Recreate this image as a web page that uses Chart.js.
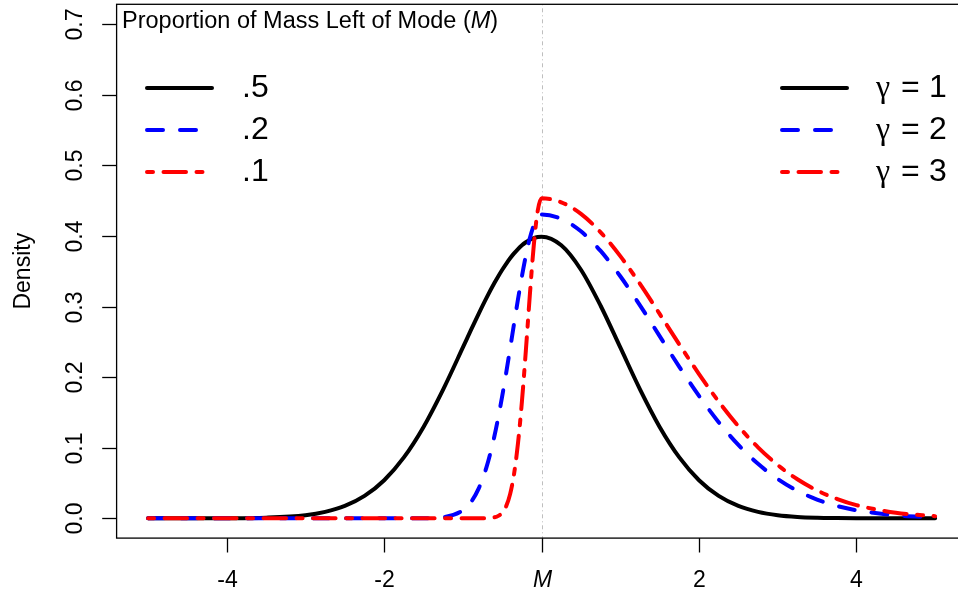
<!DOCTYPE html>
<html>
<head>
<meta charset="utf-8">
<script src="https://cdn.jsdelivr.net/npm/chart.js@4/dist/chart.umd.min.js"></script>
<style>
  html, body { margin: 0; padding: 0; background: #fff; width: 958px; height: 594px; overflow: hidden; }
  #wrap { position: relative; width: 975px; height: 594px; }
</style>
</head>
<body>
<div id="wrap"><canvas id="c" width="975" height="594"></canvas></div>
<script>
// ---- data ----
const xValues = [-5,-4.5,-4,-3.5,-3,-2.75,-2.5,-2.25,-2,-1.75,-1.5,-1.25,-1,-0.9,-0.8,-0.7,-0.6,-0.55,-0.5,-0.45,-0.4,-0.35,-0.3,-0.25,-0.2,-0.15,-0.1,-0.05,0,0.25,0.5,0.75,1,1.25,1.5,1.75,2,2.25,2.5,2.75,3,3.25,3.5,3.75,4,4.5,5];

const gamma1 = [0.0000,0.0000,0.0001,0.0009,0.0044,0.0091,0.0175,0.0317,0.0540,0.0863,0.1295,0.1827,0.2420,0.2661,0.2897,0.3123,0.3332,0.3429,0.3521,0.3605,0.3683,0.3752,0.3814,0.3867,0.3910,0.3945,0.3970,0.3984,0.3989,0.3867,0.3521,0.3011,0.2420,0.1827,0.1295,0.0863,0.0540,0.0317,0.0175,0.0091,0.0044,0.0020,0.0009,0.0004,0.0001,0.0000,0.0000];

const gamma2 = [0,0,0,0,0,0,0,0,0,0.0000,0.0001,0.0015,0.0114,0.0227,0.0420,0.0725,0.1162,0.1433,0.1734,0.2061,0.2405,0.2756,0.3102,0.3428,0.3721,0.3965,0.4149,0.4264,0.4303,0.4242,0.4065,0.3787,0.3428,0.3017,0.2581,0.2146,0.1734,0.1362,0.1040,0.0772,0.0557,0.0390,0.0266,0.0176,0.0114,0.0043,0.0015];

const gamma3 = [0,0,0,0,0,0,0,0,0,0,0,0,0,0,0.0000,0.0002,0.0014,0.0035,0.0080,0.0173,0.0343,0.0628,0.1062,0.1654,0.2377,0.3153,0.3857,0.4352,0.4532,0.4476,0.4312,0.4051,0.3713,0.3320,0.2895,0.2463,0.2043,0.1654,0.1306,0.1005,0.0755,0.0553,0.0395,0.0276,0.0187,0.0080,0.0031];

const xTickValues = [-4, -2, 0, 2, 4];
const xTickLabels = ['-4', '-2', 'M', '2', '4'];
const yTickValues = [0, 0.1, 0.2, 0.3, 0.4, 0.5, 0.6, 0.7];
const yTickLabels = ['0.0', '0.1', '0.2', '0.3', '0.4', '0.5', '0.6', '0.7'];

const legendTitle = 'Proportion of Mass Left of Mode (';
const legendTitleItalic = 'M';
const propLabels = ['.5', '.2', '.1'];
const gammaLabels = ['1', '2', '3'];
const yAxisTitle = 'Density';

// ---- styles ----
const colors = ['#000000', '#0000FF', '#FF0000'];
const dashes = [[], [16, 17], [6, 10.5, 22.5, 10.5]];
const LW = 4;
const SANS = '"Liberation Sans", Arial, Helvetica, sans-serif';
const FS = 23;
const TFS = 23.5;

function pts(ys) { return xValues.map((x, i) => ({ x: x, y: ys[i] })); }

const series = [gamma1, gamma2, gamma3];
const datasets = series.map((s, i) => ({
  data: pts(s),
  borderColor: colors[i],
  borderWidth: LW,
  borderDash: dashes[i],
  borderCapStyle: 'round',
  borderJoinStyle: 'round',
  pointRadius: 0,
  fill: false,
  cubicInterpolationMode: 'monotone',
  order: 3 - i
}));

const decor = {
  id: 'rdecor',
  beforeDatasetsDraw(chart) {
    const ctx = chart.ctx, a = chart.chartArea, xs = chart.scales.x;
    const x0 = Math.round(xs.getPixelForValue(0)) + 0.5;
    ctx.save();
    ctx.strokeStyle = '#BEBEBE';
    ctx.lineWidth = 1;
    ctx.setLineDash([1, 3, 4, 3]);
    ctx.beginPath();
    ctx.moveTo(x0, a.top);
    ctx.lineTo(x0, a.bottom);
    ctx.stroke();
    ctx.restore();
  },
  afterDraw(chart) {
    const ctx = chart.ctx, a = chart.chartArea, xs = chart.scales.x, ys = chart.scales.y;
    ctx.save();
    // box
    ctx.strokeStyle = '#000';
    ctx.lineWidth = 1.3;
    ctx.setLineDash([]);
    ctx.strokeRect(a.left, a.top, a.right - a.left, a.bottom - a.top);
    // x ticks
    const tick = 14.4;
    ctx.fillStyle = '#000';
    ctx.textAlign = 'center';
    ctx.textBaseline = 'alphabetic';
    xTickValues.forEach((v, i) => {
      const px = Math.round(xs.getPixelForValue(v)) + 0.5;
      ctx.beginPath();
      ctx.moveTo(px, a.bottom);
      ctx.lineTo(px, a.bottom + tick);
      ctx.stroke();
      ctx.font = (xTickLabels[i] === 'M' ? 'italic ' : '') + FS + 'px ' + SANS;
      ctx.fillText(xTickLabels[i], px, 587);
    });
    // y ticks
    yTickValues.forEach((v, i) => {
      const py = Math.round(ys.getPixelForValue(v)) + 0.5;
      ctx.beginPath();
      ctx.moveTo(a.left, py);
      ctx.lineTo(a.left - tick, py);
      ctx.stroke();
      ctx.save();
      ctx.translate(82, py);
      ctx.rotate(-Math.PI / 2);
      ctx.font = FS + 'px ' + SANS;
      ctx.textAlign = 'center';
      ctx.fillText(yTickLabels[i], 0, 0);
      ctx.restore();
    });
    // y title
    ctx.save();
    ctx.translate(30, (a.top + a.bottom) / 2);
    ctx.rotate(-Math.PI / 2);
    ctx.font = FS + 'px ' + SANS;
    ctx.textAlign = 'center';
    ctx.fillText(yAxisTitle, 0, 0);
    ctx.restore();
    // legend title
    ctx.textAlign = 'left';
    ctx.font = TFS + 'px ' + SANS;
    let tx = 122;
    ctx.fillText(legendTitle, tx, 28);
    tx += ctx.measureText(legendTitle).width;
    ctx.font = 'italic ' + TFS + 'px ' + SANS;
    ctx.fillText(legendTitleItalic, tx, 28);
    tx += ctx.measureText(legendTitleItalic).width;
    ctx.font = TFS + 'px ' + SANS;
    ctx.fillText(')', tx, 28);
    // legends
    const rows = [88, 130, 172];
    rows.forEach((ry, i) => {
      ctx.save();
      ctx.strokeStyle = colors[i];
      ctx.lineWidth = LW;
      ctx.lineCap = 'round';
      ctx.setLineDash(dashes[i]);
      ctx.beginPath(); ctx.moveTo(147, ry); ctx.lineTo(212, ry); ctx.stroke();
      ctx.beginPath(); ctx.moveTo(782, ry); ctx.lineTo(847, ry); ctx.stroke();
      ctx.restore();
      ctx.fillStyle = '#000';
      ctx.textBaseline = 'alphabetic';
      const base = ry - 2 + 0.358 * 32;
      ctx.textAlign = 'left';
      ctx.font = '32px ' + SANS;
      ctx.fillText(propLabels[i], 242, base);
      ctx.font = '32px "Liberation Serif", "DejaVu Serif", serif';
      ctx.fillText('\u03B3', 876, base);
      ctx.font = '32px ' + SANS;
      ctx.fillText('=', 901, base);
      ctx.fillText(gammaLabels[i], 929, base);
    });
    ctx.restore();
  }
};

new Chart(document.getElementById('c'), {
  type: 'line',
  data: { datasets: datasets },
  options: {
    responsive: false,
    animation: false,
    devicePixelRatio: 1,
    layout: { padding: { left: 116.6, right: 8.4, top: 4.3, bottom: 55.9 } },
    plugins: { legend: { display: false }, tooltip: { enabled: false }, title: { display: false } },
    scales: {
      x: { type: 'linear', min: -5.4, max: 5.4, display: false },
      y: { type: 'linear', min: -0.028, max: 0.728, display: false }
    }
  },
  plugins: [decor]
});
</script>
</body>
</html>
